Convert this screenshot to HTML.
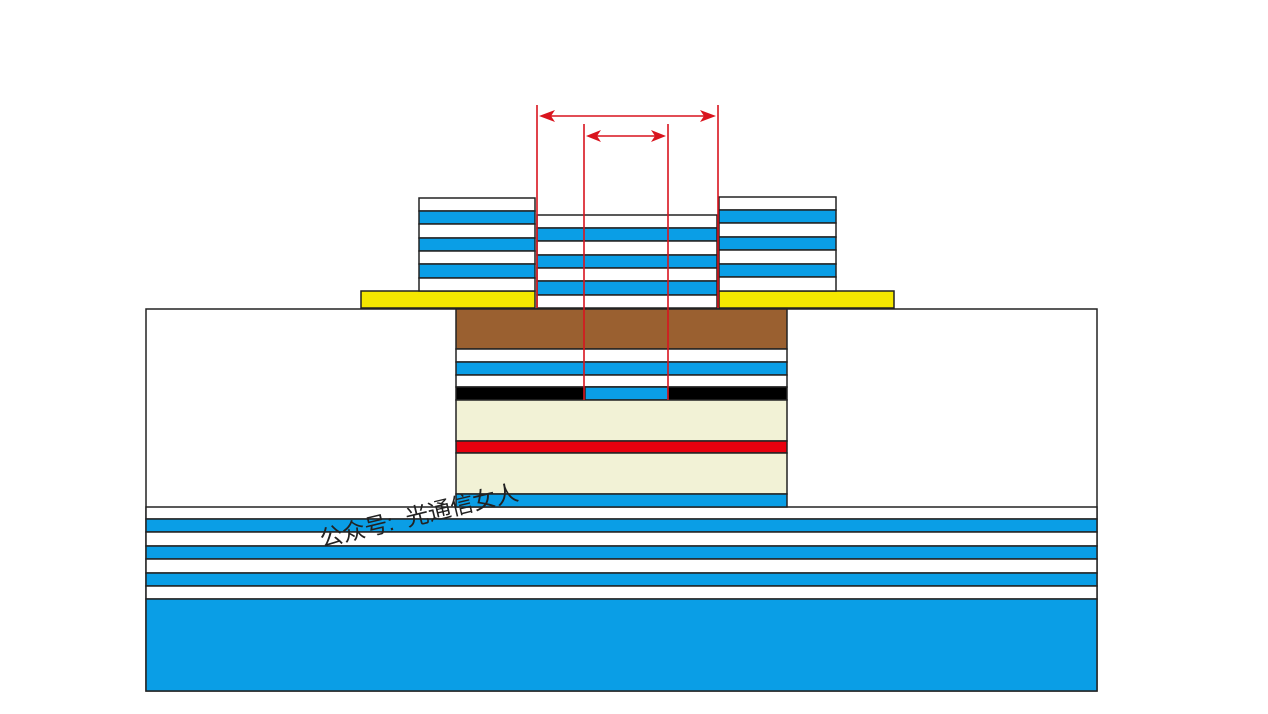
<!DOCTYPE html>
<html><head><meta charset="utf-8"><style>html,body{margin:0;padding:0;background:#fff;width:1268px;height:714px;overflow:hidden}</style></head>
<body>
<svg width="1268" height="714" xmlns="http://www.w3.org/2000/svg">
<g stroke="#222" stroke-width="1.5">
<rect x="146" y="309" width="951" height="382" fill="#fff"/>
<rect x="146" y="507" width="951" height="12" fill="#fff"/>
<rect x="146" y="519" width="951" height="13" fill="#0a9ee6"/>
<rect x="146" y="532" width="951" height="14" fill="#fff"/>
<rect x="146" y="546" width="951" height="13" fill="#0a9ee6"/>
<rect x="146" y="559" width="951" height="14" fill="#fff"/>
<rect x="146" y="573" width="951" height="13" fill="#0a9ee6"/>
<rect x="146" y="586" width="951" height="13" fill="#fff"/>
<rect x="146" y="599" width="951" height="92" fill="#0a9ee6"/>
<rect x="456" y="309" width="331" height="40" fill="#9a6030"/>
<rect x="456" y="349" width="331" height="13" fill="#fff"/>
<rect x="456" y="362" width="331" height="13" fill="#0a9ee6"/>
<rect x="456" y="375" width="331" height="12" fill="#fff"/>
<rect x="456" y="387" width="331" height="13" fill="#000"/>
<rect x="585" y="387" width="83" height="13" fill="#0a9ee6"/>
<rect x="456" y="400" width="331" height="41" fill="#f2f2d6"/>
<rect x="456" y="441" width="331" height="12" fill="#e8000e"/>
<rect x="456" y="453" width="331" height="41" fill="#f2f2d6"/>
<rect x="456" y="494" width="331" height="13" fill="#0a9ee6"/>
<rect x="361" y="291" width="174" height="17" fill="#f5e800"/>
<rect x="719" y="291" width="175" height="17" fill="#f5e800"/>
<rect x="419" y="198" width="116" height="13" fill="#fff"/>
<rect x="419" y="211" width="116" height="13" fill="#0a9ee6"/>
<rect x="419" y="224" width="116" height="14" fill="#fff"/>
<rect x="419" y="238" width="116" height="13" fill="#0a9ee6"/>
<rect x="419" y="251" width="116" height="13" fill="#fff"/>
<rect x="419" y="264" width="116" height="14" fill="#0a9ee6"/>
<rect x="419" y="278" width="116" height="13" fill="#fff"/>
<rect x="719" y="197" width="117" height="13" fill="#fff"/>
<rect x="719" y="210" width="117" height="13" fill="#0a9ee6"/>
<rect x="719" y="223" width="117" height="14" fill="#fff"/>
<rect x="719" y="237" width="117" height="13" fill="#0a9ee6"/>
<rect x="719" y="250" width="117" height="14" fill="#fff"/>
<rect x="719" y="264" width="117" height="13" fill="#0a9ee6"/>
<rect x="719" y="277" width="117" height="14" fill="#fff"/>
<rect x="537" y="215" width="180" height="13" fill="#fff"/>
<rect x="537" y="228" width="180" height="13" fill="#0a9ee6"/>
<rect x="537" y="241" width="180" height="14" fill="#fff"/>
<rect x="537" y="255" width="180" height="13" fill="#0a9ee6"/>
<rect x="537" y="268" width="180" height="13" fill="#fff"/>
<rect x="537" y="281" width="180" height="14" fill="#0a9ee6"/>
<rect x="537" y="295" width="180" height="13" fill="#fff"/>
</g>
<g stroke="#d9141e" stroke-width="1.6" fill="none">
<line x1="537" y1="105" x2="537" y2="308"/>
<line x1="718" y1="105" x2="718" y2="308"/>
<line x1="584" y1="124" x2="584" y2="400"/>
<line x1="668" y1="124" x2="668" y2="400"/>
<line x1="545" y1="116" x2="710" y2="116"/>
<line x1="592" y1="136" x2="660" y2="136"/>
</g>
<g fill="#d9141e">
<polygon points="539,116 555,110 551,116 555,122"/>
<polygon points="716,116 700,110 704,116 700,122"/>
<polygon points="586,136 601,130 597,136 601,142"/>
<polygon points="666,136 651,130 655,136 651,142"/>
</g>
<text x="322" y="547" transform="rotate(-13.5 322 547)" font-family="'Liberation Sans','Noto Sans CJK SC',sans-serif" font-size="23" fill="#222">公众号:&#160;&#160;光通信女人</text>
</svg>
</body></html>
